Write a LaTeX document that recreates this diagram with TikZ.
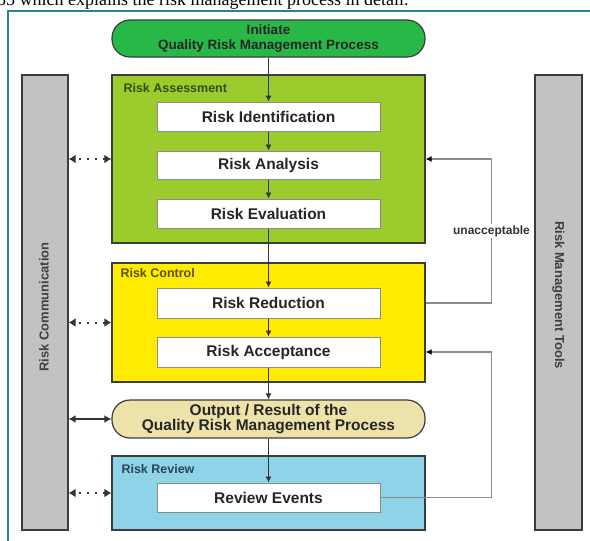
\documentclass[tikz,border=0pt]{standalone}
\usepackage{fontspec}
\setmainfont{Liberation Serif}
\setsansfont{Liberation Sans}
\usetikzlibrary{arrows.meta,calc}
\definecolor{initgreen}{RGB}{40,184,72}
\definecolor{assessgreen}{RGB}{155,203,45}
\definecolor{ctrlyellow}{RGB}{255,236,0}
\definecolor{outbeige}{RGB}{237,226,170}
\definecolor{reviewblue}{RGB}{143,211,232}
\definecolor{bargray}{RGB}{194,194,194}
\definecolor{frameteal}{RGB}{40,130,150}
\definecolor{edgedark}{RGB}{60,60,60}
\definecolor{fbgray}{RGB}{140,140,140}
\definecolor{lblgreen}{RGB}{50,80,20}
\definecolor{lblolive}{RGB}{90,80,0}
\definecolor{lblblue}{RGB}{40,70,90}
\tikzset{
  pill/.style={draw=edgedark,line width=1.2pt,rounded corners=18pt,minimum width=313pt,align=center,font=\sffamily\bfseries,text=black!85},
  groupbox/.style={draw=edgedark,line width=1.2pt,minimum width=313pt},
  stepbox/.style={draw=fbgray,line width=1pt,fill=white,minimum width=223pt,minimum height=29pt,font=\sffamily\bfseries\fontsize{15.5}{18}\selectfont,text=black!85},
  grouplabel/.style={anchor=west,font=\sffamily\bfseries\fontsize{12.5}{14}\selectfont},
  sidebar/.style={draw=edgedark,line width=1.2pt,fill=bargray,minimum width=46pt,minimum height=455pt,inner sep=0pt},
  flow/.style={draw=black!80,line width=0.9pt,-{Latex[length=6pt,width=6pt]}},
  dotarrow/.style={draw=black!80,line width=2pt,dash pattern=on 2pt off 6pt,dash phase=-4pt,{Latex[length=7pt,width=9pt]}-{Latex[length=7pt,width=9pt]}},
  solidarrow/.style={draw=black!80,line width=1.3pt,{Latex[length=7pt,width=8pt]}-{Latex[length=7pt,width=8pt]}},
  feedback/.style={draw=fbgray,line width=1.4pt,-{Latex[length=6pt,width=6pt,fill=black,color=black]}},
}
\begin{document}
\begin{tikzpicture}[x=1pt,y=-1pt]
\useasboundingbox (0,0) rectangle (590,541);
% top cut text line
\node[anchor=base west,inner sep=0pt,font=\fontsize{18}{20}\selectfont] (cuttext) at (-3,5) {55 which explains the risk management process in detail.};
% frame
\draw[frameteal,line width=1.5pt] (8,600) -- (8,11) -- (600,11);
% side bars
\node[sidebar] (comm) at (45,302.5) {};
\node[rotate=90,font=\sffamily\bfseries\fontsize{13}{15}\selectfont,text=black!75] (commtxt) at (44,307) {Risk Communication};
\node[sidebar,minimum width=47pt] (tools) at (558.5,302.5) {};
\node[rotate=-90,font=\sffamily\bfseries\fontsize{13}{15}\selectfont,text=black!75] (toolstxt) at (558.5,295) {Risk Management Tools};
% initiate
\node[pill,fill=initgreen,minimum height=37pt,font=\sffamily\bfseries\fontsize{13.5}{15}\selectfont] (init) at (268.5,38.5) {Initiate\\Quality Risk Management Process};
% risk assessment
\node[groupbox,fill=assessgreen,minimum height=168pt] (ra) at (268.5,159) {};
\node[grouplabel,text=lblgreen] (ralbl) at (120,88) {Risk Assessment};
\node[stepbox] (ri) at (268.5,116.5) {Risk Identification};
\node[stepbox,minimum height=28pt] (ran) at (268.5,165) {Risk Analysis};
\node[stepbox] (rev) at (268.5,213.5) {Risk Evaluation};
% risk control
\node[groupbox,fill=ctrlyellow,minimum height=119pt] (rc) at (268.5,322.5) {};
\node[grouplabel,text=lblolive] (rclbl) at (117,273) {Risk Control};
\node[stepbox,minimum height=30pt] (rr) at (268.5,303) {Risk Reduction};
\node[stepbox,minimum height=30pt] (racc) at (268.5,352) {Risk Acceptance};
% output
\node[pill,fill=outbeige,minimum height=38pt,font=\sffamily\bfseries\fontsize{15.5}{14}\selectfont] (out) at (268.5,419) {Output / Result of the\\Quality Risk Management Process};
% risk review
\node[groupbox,fill=reviewblue,minimum height=74pt] (rvw) at (268.5,493) {};
\node[grouplabel,text=lblblue] (rvwlbl) at (118,469) {Risk Review};
\node[stepbox] (re) at (268.5,497.5) {Review Events};
% main flow
\draw[flow] (init.south) -- (ri.north);
\draw[flow] (ri.south) -- (ran.north);
\draw[flow] (ran.south) -- (rev.north);
\draw[flow] (rev.south) -- (rr.north);
\draw[flow] (rr.south) -- (racc.north);
\draw[flow] (racc.south) -- (out.north);
\draw[flow] (out.south) -- (re.north);
% communication arrows
\draw[dotarrow] (comm.east |- ra.center) -- (ra.west);
\draw[dotarrow] (comm.east |- rc.center) -- (rc.west);
\draw[solidarrow] (comm.east |- out.center) -- (out.west);
\draw[dotarrow] (comm.east |- rvw.center) -- (rvw.west);
% feedback loops
\coordinate (fbx) at (491.5,0);
\draw[feedback] (rc.east |- rr.center) -| (fbx |- ra.center) -- (ra.east);
\node[fill=white,inner sep=1.5pt,font=\sffamily\bfseries\fontsize{12}{14}\selectfont,text=black!80] (unacc) at (491.5,231) {unacceptable};
\draw[feedback] (re.east) -| (fbx |- racc.center) -- (rc.east |- racc.center);
\end{tikzpicture}
\end{document}
